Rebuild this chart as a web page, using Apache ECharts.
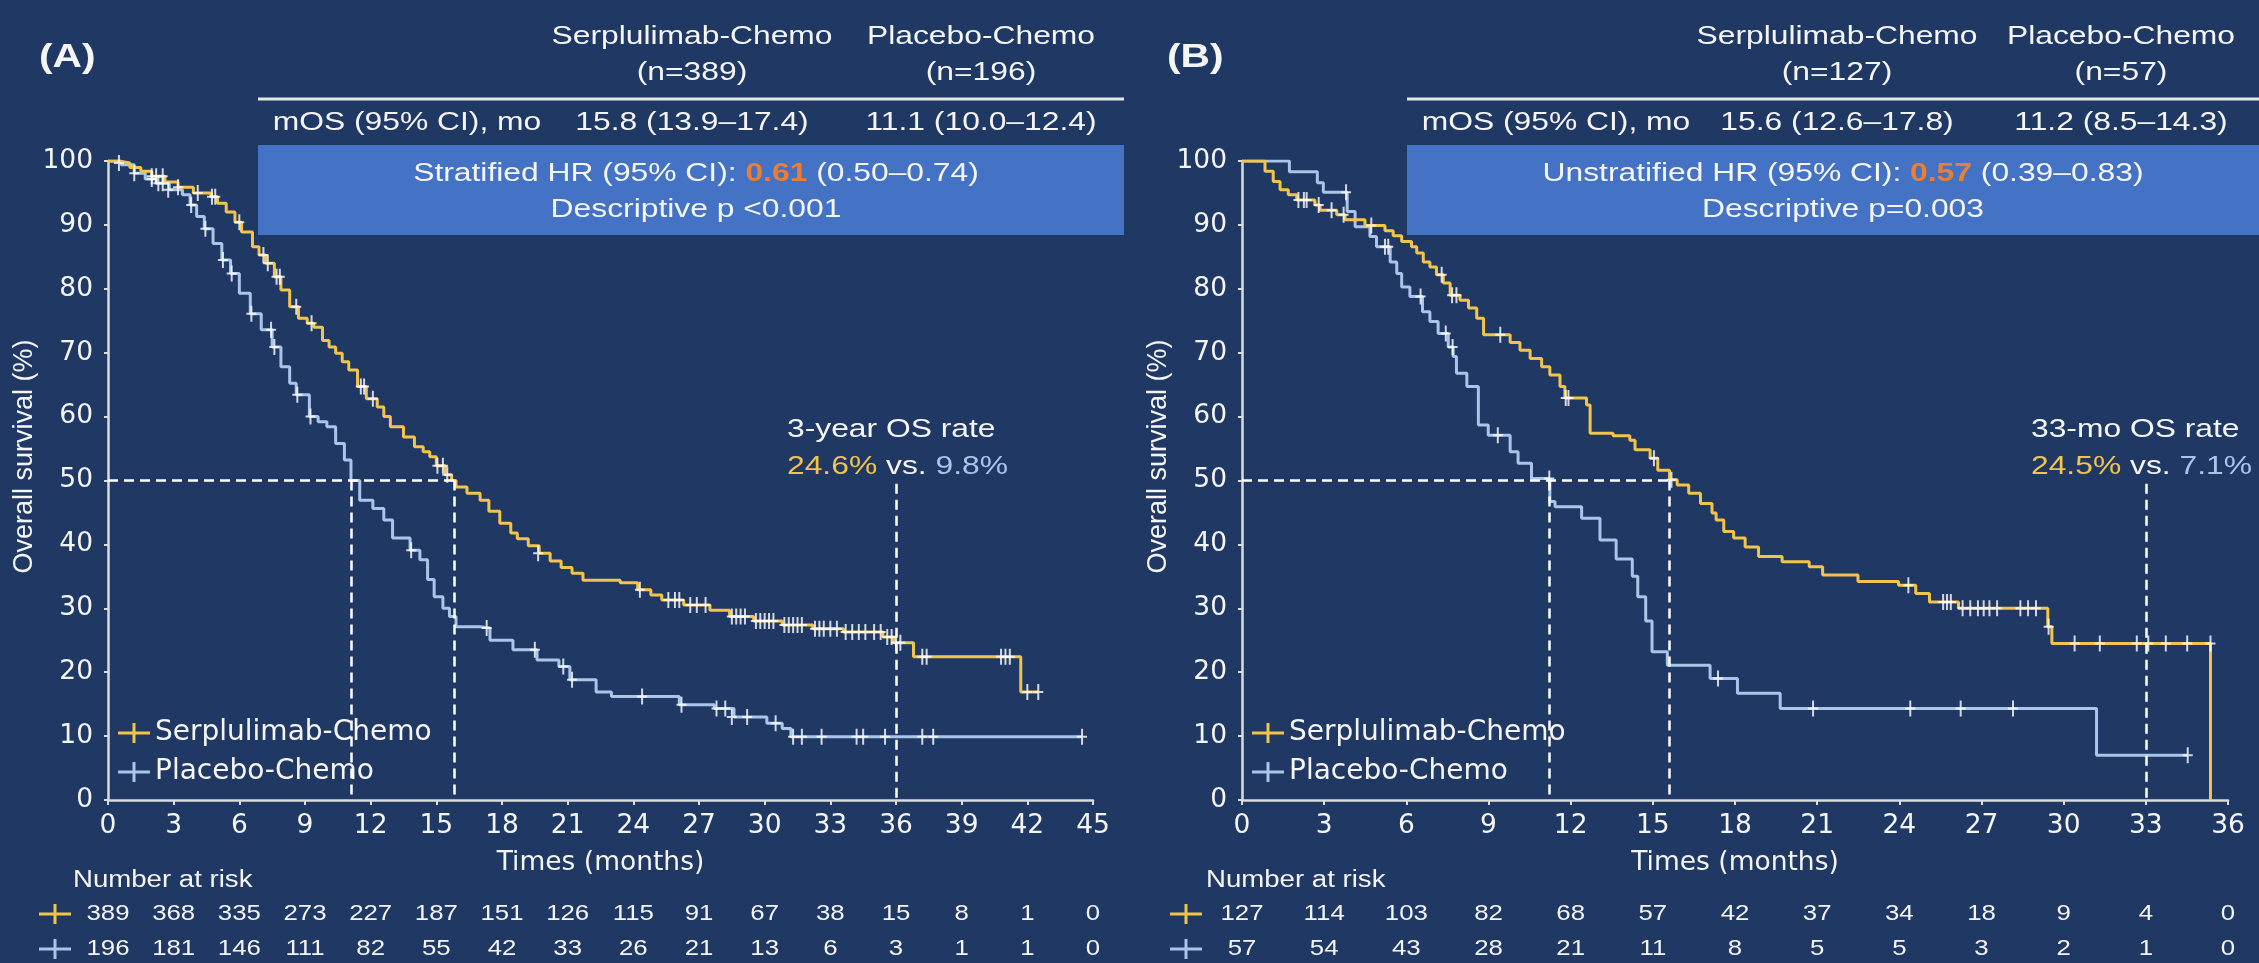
<!DOCTYPE html>
<html><head><meta charset="utf-8">
<script src="https://cdn.jsdelivr.net/npm/echarts@6.0.0/dist/echarts.min.js"></script>
<style>html,body{margin:0;padding:0;background:#1f3864;}#c{width:2259px;height:963px;}</style>
</head><body><div id="c"></div>
<script>
// ---------------- data ----------------
const groupNames = ['Serplulimab-Chemo', 'Placebo-Chemo'];
const nA = [389, 196];
const nB = [127, 57];
const mosLabel = 'mOS (95% CI), mo';
const mosA = ['15.8 (13.9–17.4)', '11.1 (10.0–12.4)'];
const mosB = ['15.6 (12.6–17.8)', '11.2 (8.5–14.3)'];
const hrA = ['Stratified HR (95% CI): ', '0.61', ' (0.50–0.74)'];
const hrB = ['Unstratified HR (95% CI): ', '0.57', ' (0.39–0.83)'];
const pA = 'Descriptive p <0.001';
const pB = 'Descriptive p=0.003';
const medianA = [15.8, 11.1];
const medianB = [15.6, 11.2];
const landmarkA = 36;
const landmarkB = 33;
const rateTitleA = '3-year OS rate';
const rateA = ['24.6%', '9.8%'];
const rateTitleB = '33-mo OS rate';
const rateB = ['24.5%', '7.1%'];

const ticksA = [0, 3, 6, 9, 12, 15, 18, 21, 24, 27, 30, 33, 36, 39, 42, 45];
const riskA_serp = [389, 368, 335, 273, 227, 187, 151, 126, 115, 91, 67, 38, 15, 8, 1, 0];
const riskA_plac = [196, 181, 146, 111, 82, 55, 42, 33, 26, 21, 13, 6, 3, 1, 1, 0];
const ticksB = [0, 3, 6, 9, 12, 15, 18, 21, 24, 27, 30, 33, 36];
const riskB_serp = [127, 114, 103, 82, 68, 57, 42, 37, 34, 18, 9, 4, 0];
const riskB_plac = [57, 54, 43, 28, 21, 11, 8, 5, 5, 3, 2, 1, 0];

// Kaplan-Meier steps [month, survival %]
const kmA_serp = [[0,100],[0.5,99.7],[1.0,99.0],[1.5,98.4],[2.0,97.6],[2.6,96.7],[3.2,95.9],[3.9,95.0],[4.7,94.4],[5.0,93.4],[5.4,92.0],[5.8,90.4],[6.1,88.9],[6.6,86.6],[6.9,85.3],[7.2,84.0],[7.6,81.9],[7.9,79.8],[8.3,77.2],[8.7,75.4],[9.1,74.6],[9.4,74.0],[9.8,71.9],[10.1,70.9],[10.4,69.9],[10.7,68.6],[11.0,67.3],[11.4,64.7],[11.8,62.8],[12.3,61.5],[12.6,60.0],[12.9,58.4],[13.5,56.8],[14.0,55.3],[14.4,54.5],[14.7,53.7],[15.0,52.3],[15.4,50.9],[15.7,50.0],[15.9,49.0],[16.4,48.0],[17.0,46.9],[17.4,45.2],[17.9,43.3],[18.4,41.8],[18.7,40.9],[19.2,39.8],[19.7,38.6],[20.2,37.4],[20.7,36.4],[21.2,35.5],[21.7,34.4],[23.4,34.0],[24.2,32.9],[24.8,32.1],[25.3,31.3],[26.3,30.5],[27.5,29.7],[28.4,28.7],[29.5,28.0],[30.8,27.4],[32.2,26.8],[33.6,26.3],[35.4,25.5],[35.9,24.6],[36.8,22.4],[41.7,16.9],[42.5,16.9]];
const kmA_plac = [[0,100],[0.6,99.4],[1.2,98.1],[1.7,97.2],[2.2,96.5],[2.8,95.5],[3.4,94.7],[3.75,93.1],[4.05,91.3],[4.4,89.4],[4.8,87.1],[5.2,84.5],[5.6,82.4],[6.0,79.3],[6.5,76.1],[7.0,73.6],[7.5,70.9],[7.9,67.8],[8.3,65.2],[8.6,63.4],[9.2,60.0],[9.6,59.2],[10.0,58.4],[10.4,55.8],[10.8,53.2],[11.1,50.0],[11.5,46.9],[12.1,45.6],[12.6,43.8],[13.0,41.0],[13.8,39.1],[14.25,37.6],[14.6,34.5],[14.9,31.8],[15.3,30.0],[15.6,28.7],[15.9,27.1],[17.0,26.9],[17.45,25.0],[18.5,23.5],[19.6,21.9],[20.6,20.9],[21.1,18.8],[22.3,16.9],[23.0,16.2],[26.1,14.9],[27.7,14.3],[28.6,13.0],[30.1,12.0],[30.8,11.2],[31.2,9.9],[44.5,9.9]];
const censA_serp = [[0.5,99.7],[2.0,97.6],[2.2,97.6],[2.5,97.6],[3.2,95.9],[4.1,95.0],[4.75,94.4],[4.9,94.4],[6.0,90.4],[7.1,85.3],[7.3,84.0],[7.7,81.9],[7.85,81.9],[8.6,77.2],[9.3,74.6],[11.55,64.7],[11.7,64.7],[12.1,62.8],[15.05,52.3],[15.3,52.3],[15.5,50.9],[19.65,38.6],[24.3,32.9],[25.6,31.3],[25.9,31.3],[26.1,31.3],[26.6,30.5],[26.9,30.5],[27.3,30.5],[28.5,28.7],[28.7,28.7],[28.9,28.7],[29.1,28.7],[29.6,28.0],[29.8,28.0],[30.0,28.0],[30.2,28.0],[30.4,28.0],[30.9,27.4],[31.1,27.4],[31.3,27.4],[31.5,27.4],[31.7,27.4],[32.3,26.8],[32.5,26.8],[32.7,26.8],[33.0,26.8],[33.3,26.8],[33.7,26.3],[34.0,26.3],[34.3,26.3],[34.6,26.3],[35.0,26.3],[35.3,26.3],[35.6,25.5],[35.8,25.5],[36.0,24.6],[36.2,24.6],[37.2,22.4],[37.4,22.4],[40.8,22.4],[41.0,22.4],[41.2,22.4],[42.0,16.9],[42.5,16.9]];
const censA_plac = [[1.2,98.1],[2.0,97.2],[2.3,96.5],[2.5,96.5],[2.75,95.5],[3.8,93.1],[4.45,89.4],[5.25,84.5],[5.65,82.4],[6.55,76.1],[7.45,73.6],[7.6,70.9],[8.65,63.4],[9.25,60.0],[13.85,39.1],[17.3,26.9],[19.5,23.5],[20.8,20.9],[21.2,18.8],[24.4,16.2],[26.2,14.9],[27.8,14.3],[28.2,14.3],[28.5,13.0],[29.2,13.0],[30.5,12.0],[31.3,9.9],[31.7,9.9],[32.6,9.9],[34.2,9.9],[34.5,9.9],[35.5,9.9],[37.2,9.9],[37.7,9.9],[44.5,9.9]];

const kmB_serp = [[0,100],[0.84,98.4],[1.14,96.8],[1.39,95.5],[1.69,94.7],[2.00,93.9],[2.66,93.1],[2.85,92.3],[3.46,91.6],[3.76,90.8],[4.49,89.9],[5.22,89.1],[5.52,88.3],[5.83,87.4],[6.19,86.6],[6.38,85.6],[6.62,84.2],[6.86,83.4],[7.10,82.2],[7.35,80.9],[7.60,79.0],[7.96,78.2],[8.27,77.0],[8.57,75.4],[8.82,72.8],[9.79,71.6],[10.15,70.4],[10.52,69.1],[10.94,67.8],[11.24,66.5],[11.61,64.7],[11.79,62.9],[12.58,61.8],[12.71,57.4],[13.55,57.0],[14.16,56.3],[14.35,54.8],[14.90,53.5],[15.18,51.6],[15.61,50.1],[15.89,49.3],[16.31,48.0],[16.74,46.4],[17.16,44.9],[17.31,43.8],[17.59,42.0],[17.95,41.0],[18.37,39.6],[18.86,38.1],[19.72,37.3],[20.71,36.5],[21.20,35.2],[22.49,34.2],[23.97,33.6],[24.60,32.3],[25.10,31.0],[26.16,30.0],[29.42,27.1],[29.57,24.5],[35.36,0]];
const kmB_plac = [[0,100],[1.73,98.3],[2.75,96.6],[2.97,95.1],[3.84,92.1],[4.13,89.7],[4.67,88.2],[4.91,86.6],[5.41,84.2],[5.65,82.4],[5.83,80.3],[6.13,78.8],[6.59,76.4],[6.86,74.9],[7.16,73.0],[7.53,70.9],[7.71,69.4],[7.83,66.8],[8.21,64.7],[8.63,58.7],[8.99,57.1],[9.79,54.5],[10.08,52.7],[10.57,50.3],[11.24,46.7],[11.43,45.9],[12.40,44.1],[13.07,40.7],[13.66,37.7],[14.25,35.0],[14.45,31.8],[14.74,28.0],[14.97,23.2],[15.53,21.1],[17.09,19.0],[18.09,16.7],[19.65,14.3],[31.20,7.0],[34.53,7.0]];
const censB_serp = [[2.06,93.9],[2.26,93.9],[2.36,93.9],[2.80,93.1],[3.27,92.3],[3.71,91.6],[4.72,89.9],[7.29,82.2],[7.67,79.0],[7.83,79.0],[9.43,72.8],[11.82,62.9],[11.92,62.9],[15.04,53.5],[15.68,50.1],[24.33,33.6],[25.60,31.0],[25.74,31.0],[25.88,31.0],[26.31,30.0],[26.59,30.0],[26.87,30.0],[27.08,30.0],[27.29,30.0],[27.57,30.0],[28.42,30.0],[28.70,30.0],[28.99,30.0],[29.45,27.1],[30.40,24.5],[31.32,24.5],[32.67,24.5],[33.09,24.5],[33.73,24.5],[34.51,24.5],[35.36,24.5]];
const censB_plac = [[3.80,95.1],[5.22,86.6],[5.34,86.6],[6.52,78.8],[7.44,73.0],[7.69,70.9],[9.34,57.1],[11.22,50.3],[17.38,19.0],[20.85,14.3],[24.40,14.3],[26.24,14.3],[28.15,14.3],[34.53,7.0]];

// ---------------- style ----------------
const BG = '#1f3864', BOX = '#4472c4', ORANGE = '#ed7d31', YEL = '#f3c44b', BLU = '#a9c6ea';
const WHITE = '#f5f5f5', AXC = '#dcdcdc';
const AX_FONT = 'DejaVu Sans', TX_FONT = 'Liberation Sans', SX = 1.2;
const CROSS = 'path://M4,0h2v16h-2z M0,7h10v2h-10z';
const LEG_CROSS = 'path://M14.5,0h3v20h-3z M0,8.5h32v3h-32z';

function xAxisCfg(gi, max) {
  return {
    type: 'value', gridIndex: gi, min: 0, max: max, interval: 3,
    name: 'Times (months)', nameLocation: 'middle', nameGap: 50,
    nameTextStyle: { color: WHITE, fontFamily: AX_FONT, fontSize: 26.5 },
    axisLine: { show: true, onZero: false, lineStyle: { color: AXC, width: 2.5 } },
    axisTick: { show: true, length: 5, lineStyle: { color: AXC, width: 2 } },
    axisLabel: { color: WHITE, fontFamily: AX_FONT, fontSize: 26.5, margin: 13 },
    splitLine: { show: false }
  };
}
function yAxisCfg(gi) {
  return {
    type: 'value', gridIndex: gi, min: 0, max: 100, interval: 10,
    name: 'Overall survival (%)', nameLocation: 'middle', nameGap: 67, nameRotate: 90,
    nameTextStyle: { color: WHITE, fontFamily: TX_FONT, fontSize: 27, padding: [0, 0, 0, 48] },
    axisLine: { show: true, lineStyle: { color: AXC, width: 2.5 } },
    axisTick: { show: true, length: 4, lineStyle: { color: AXC, width: 2 } },
    axisLabel: { color: WHITE, fontFamily: AX_FONT, fontSize: 26.5, margin: 15 },
    splitLine: { show: false }
  };
}
function legendCfg(left) {
  return {
    orient: 'vertical', left: left, top: 717, padding: 0, itemGap: 7,
    itemWidth: 32, itemHeight: 20, icon: LEG_CROSS, selectedMode: false,
    data: groupNames.slice(),
    textStyle: { color: WHITE, fontFamily: AX_FONT, fontSize: 28, lineHeight: 32 }
  };
}
function km(name, data, color, idx, extra) {
  return Object.assign({
    type: 'line', name: name, xAxisIndex: idx, yAxisIndex: idx, data: data, step: 'end',
    symbol: 'none', showSymbol: false, lineStyle: { color: color, width: 3 },
    itemStyle: { color: color }, z: 3, silent: true, animation: false
  }, extra || {});
}
function cens(name, data, idx) {
  return {
    type: 'scatter', name: name, xAxisIndex: idx, yAxisIndex: idx, data: data,
    symbol: CROSS, symbolSize: [10, 16], itemStyle: { color: '#ffffff' },
    z: 4, silent: true, animation: false
  };
}
function dashLines(medians, landmark, landTop) {
  return {
    silent: true, symbol: 'none', animation: false, label: { show: false },
    lineStyle: { color: '#ffffff', type: [10, 6], width: 2.5 },
    data: [
      [{ coord: [0, 50] }, { coord: [medians[0], 50] }],
      [{ coord: [medians[0], 50] }, { coord: [medians[0], 0] }],
      [{ coord: [medians[1], 50] }, { coord: [medians[1], 0] }],
      [{ coord: [landmark, landTop] }, { coord: [landmark, 0] }]
    ]
  };
}

const chart = echarts.init(document.getElementById('c'), null, { renderer: 'canvas', width: 2259, height: 963 });
chart.setOption({
  backgroundColor: BG,
  animation: false,
  grid: [
    { left: 108, right: 1166, top: 161, bottom: 163 },
    { left: 1242, right: 31, top: 161, bottom: 163 }
  ],
  xAxis: [xAxisCfg(0, 45), xAxisCfg(1, 36)],
  yAxis: [yAxisCfg(0), yAxisCfg(1)],
  legend: [legendCfg(118), legendCfg(1252)],
  series: [
    km(groupNames[1], kmA_plac, BLU, 0),
    km(groupNames[0], kmA_serp, YEL, 0, { markLine: dashLines(medianA, landmarkA, 49.5) }),
    cens('censA_plac', censA_plac, 0),
    cens('censA_serp', censA_serp, 0),
    km(groupNames[1], kmB_plac, BLU, 1),
    km(groupNames[0], kmB_serp, YEL, 1, { markLine: dashLines(medianB, landmarkB, 49.5) }),
    cens('censB_plac', censB_plac, 1),
    cens('censB_serp', censB_serp, 1)
  ]
});

// ---------------- text / table graphics ----------------
function T(x, y, text, o) {
  o = o || {};
  const fs = o.fs || 26.5;
  const al = o.align || 'center';
  const st = {
    text: text, fontFamily: TX_FONT, fontSize: fs, fontWeight: o.fw || 'normal',
    fill: o.fill || WHITE, align: al, verticalAlign: 'middle', textAlign: al, textVerticalAlign: 'middle'
  };
  if (o.rich) st.rich = o.rich;
  return { type: 'text', x: x, y: y, scaleX: SX, scaleY: 1, style: st, z: 10, silent: true };
}
function rs(color, bold) {
  return { fill: color, fontFamily: TX_FONT, fontSize: 26.5, fontWeight: bold ? 'bold' : 'normal' };
}
function plus(cx, cy, color) {
  return [
    { type: 'line', shape: { x1: cx - 16, y1: cy, x2: cx + 16, y2: cy }, style: { stroke: color, lineWidth: 3 }, z: 10, silent: true },
    { type: 'line', shape: { x1: cx, y1: cy - 10, x2: cx, y2: cy + 10 }, style: { stroke: color, lineWidth: 3 }, z: 10, silent: true }
  ];
}
const richAll = { o: rs(ORANGE, true), y: rs(YEL), b: rs(BLU), w: rs(WHITE) };

function panel(p) {
  const els = [];
  els.push(T(p.labX, 58, p.label, { fs: 34, fw: 'bold', align: 'left' }));
  els.push(T(p.c1, 37, groupNames[0]));
  els.push(T(p.c1, 73, '(n=' + p.n[0] + ')'));
  els.push(T(p.c2, 37, groupNames[1]));
  els.push(T(p.c2, 73, '(n=' + p.n[1] + ')'));
  els.push({ type: 'line', shape: { x1: p.boxL, y1: 99, x2: p.boxR, y2: 99 }, style: { stroke: '#e6e6e6', lineWidth: 3 }, z: 9, silent: true });
  els.push(T(p.c0, 123, mosLabel));
  els.push(T(p.c1, 123, p.mos[0]));
  els.push(T(p.c2, 123, p.mos[1]));
  els.push({ type: 'rect', shape: { x: p.boxL, y: 145, width: p.boxR - p.boxL, height: 90 }, style: { fill: BOX }, z: 8, silent: true });
  els.push(T(p.boxC, 174, p.hr[0] + '{o|' + p.hr[1] + '}' + p.hr[2], { rich: richAll }));
  els.push(T(p.boxC, 210, p.p));
  els.push(T(p.rateX, 430, p.rateTitle, { align: 'left' }));
  els.push(T(p.rateX, 467, '{y|' + p.rate[0] + '}{w| vs. }{b|' + p.rate[1] + '}', { align: 'left', rich: richAll }));
  // number at risk
  els.push(T(p.narX, 881, 'Number at risk', { fs: 23, align: 'left' }));
  els.push.apply(els, plus(p.plusX, 914, YEL));
  els.push.apply(els, plus(p.plusX, 949, BLU));
  p.ticks.forEach(function (t, i) {
    const px = chart.convertToPixel({ xAxisIndex: p.axis }, t);
    els.push(T(px, 914, String(p.risk[0][i]), { fs: 21.5 }));
    els.push(T(px, 949, String(p.risk[1][i]), { fs: 21.5 }));
  });
  return els;
}

const elements = [].concat(
  panel({ label: '(A)', labX: 39, c0: 407, c1: 692, c2: 981, boxL: 258, boxR: 1124, boxC: 696,
    n: nA, mos: mosA, hr: hrA, p: pA, rateX: 787, rateTitle: rateTitleA, rate: rateA,
    narX: 73, plusX: 55, ticks: ticksA, risk: [riskA_serp, riskA_plac], axis: 0 }),
  panel({ label: '(B)', labX: 1167, c0: 1556, c1: 1837, c2: 2121, boxL: 1407, boxR: 2259, boxC: 1843,
    n: nB, mos: mosB, hr: hrB, p: pB, rateX: 2031, rateTitle: rateTitleB, rate: rateB,
    narX: 1206, plusX: 1186, ticks: ticksB, risk: [riskB_serp, riskB_plac], axis: 1 })
);
chart.setOption({ graphic: { elements: elements } });
</script></body></html>
